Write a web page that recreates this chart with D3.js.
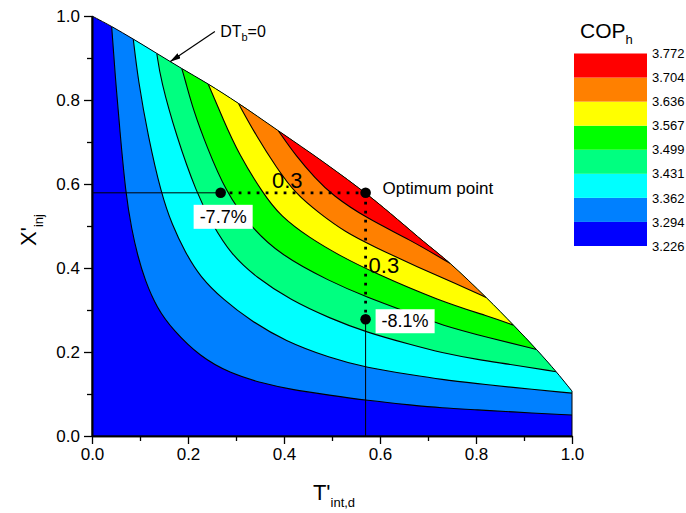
<!DOCTYPE html>
<html>
<head>
<meta charset="utf-8">
<script src="https://cdn.jsdelivr.net/npm/d3@7/dist/d3.min.js"></script>
<style>
  body { margin: 0; background: #fff; }
  text { font-family: "Liberation Sans", Arial, sans-serif; fill: #000; }
</style>
</head>
<body>
<div id="chart"></div>
<script>
// contour levels (COP_h) and band colours, low -> high
var levels = [3.226, 3.294, 3.362, 3.431, 3.499, 3.567, 3.636, 3.704, 3.772];
var bandColors = ["#0000ff", "#0080ff", "#00ffff", "#00ff80", "#00ff00", "#ffff00", "#ff8000", "#ff0000"];

// upper edge of the feasible region (DT_b = 0)
var boundary = [[0, 1.0], [0.041, 0.975], [0.086, 0.945], [0.135, 0.911], [0.187, 0.875],
  [0.242, 0.838], [0.305, 0.792], [0.388, 0.727], [0.485, 0.650], [0.579, 0.570],
  [0.690, 0.464], [0.746, 0.411], [0.821, 0.330], [0.878, 0.264], [0.926, 0.206],
  [0.967, 0.153], [0.990, 0.121], [1.0, 0.107]];

// iso-lines between the bands
var line3294 = [[0.041, 0.975], [0.049, 0.848], [0.058, 0.729], [0.070, 0.578], [0.083, 0.490],
  [0.095, 0.430], [0.110, 0.372], [0.135, 0.305], [0.169, 0.252], [0.225, 0.189], [0.288, 0.149],
  [0.357, 0.125], [0.413, 0.111], [0.496, 0.097], [0.571, 0.085], [0.669, 0.073], [0.725, 0.067],
  [0.808, 0.062], [0.864, 0.058], [1.0, 0.050]];
var line3362 = [[0.086, 0.945], [0.096, 0.848], [0.117, 0.713], [0.144, 0.578], [0.167, 0.502],
  [0.194, 0.438], [0.225, 0.379], [0.274, 0.324], [0.329, 0.276], [0.402, 0.226], [0.496, 0.186],
  [0.571, 0.163], [0.669, 0.145], [0.725, 0.135], [0.808, 0.124], [0.864, 0.117], [1.0, 0.102]];
var line3431 = [[0.135, 0.911], [0.143, 0.848], [0.176, 0.713], [0.218, 0.578], [0.250, 0.505],
  [0.290, 0.432], [0.343, 0.377], [0.413, 0.324], [0.496, 0.280], [0.571, 0.247], [0.669, 0.216],
  [0.725, 0.199], [0.808, 0.181], [0.864, 0.172], [0.967, 0.153]];
var line3499 = [[0.187, 0.875], [0.194, 0.848], [0.211, 0.776], [0.239, 0.689], [0.279, 0.581],
  [0.329, 0.500], [0.392, 0.431], [0.496, 0.368], [0.571, 0.331], [0.669, 0.290], [0.725, 0.265],
  [0.829, 0.233], [0.926, 0.206]];
var line3567 = [[0.242, 0.838], [0.274, 0.752], [0.305, 0.673], [0.356, 0.578], [0.392, 0.524],
  [0.454, 0.471], [0.517, 0.429], [0.585, 0.390], [0.725, 0.321], [0.829, 0.284], [0.878, 0.264]];
var line3636 = [[0.305, 0.792], [0.343, 0.713], [0.385, 0.638], [0.423, 0.578], [0.475, 0.529],
  [0.527, 0.486], [0.585, 0.452], [0.683, 0.400], [0.756, 0.364], [0.821, 0.330]];
var line3704 = [[0.388, 0.727], [0.426, 0.665], [0.465, 0.614], [0.500, 0.574], [0.571, 0.519],
  [0.663, 0.467], [0.746, 0.411]];
var contourLines = [line3294, line3362, line3431, line3499, line3567, line3636, line3704];

// marked points
var optimum = [0.570, 0.579];
var pointT = [0.268, 0.579];   // -7.7%
var pointX = [0.570, 0.278];   // -8.1%

var majorTicks = [0, 0.2, 0.4, 0.6, 0.8, 1.0];
var minorTicks = [0.1, 0.3, 0.5, 0.7, 0.9];

var svgWidth = 686;
var svgHeight = 513;
var margin = { top: 16, right: 114, bottom: 77, left: 92 };
var width = svgWidth - margin.left - margin.right;
var height = svgHeight - margin.top - margin.bottom;

var svg = d3.select("#chart").append("svg")
  .attr("width", svgWidth)
  .attr("height", svgHeight);

var xScale = d3.scaleLinear().domain([0, 1]).range([margin.left, margin.left + width]);
var yScale = d3.scaleLinear().domain([0, 1]).range([margin.top + height, margin.top]);

// smooth curve for the iso-lines, through-the-points curve for the edge
var isoLine = d3.line()
  .x(function (d) { return xScale(d[0]); })
  .y(function (d) { return yScale(d[1]); })
  .curve(d3.curveBasis);
var edgeLine = d3.line()
  .x(function (d) { return xScale(d[0]); })
  .y(function (d) { return yScale(d[1]); })
  .curve(d3.curveCatmullRom.alpha(0.5));

var domainPath = edgeLine(boundary) +
  "L" + xScale(1) + "," + yScale(0) + "L" + xScale(0) + "," + yScale(0) + "Z";

var defs = svg.append("defs");
defs.append("clipPath").attr("id", "region")
  .append("path").attr("d", domainPath);
defs.append("marker")
  .attr("id", "arrow")
  .attr("markerUnits", "userSpaceOnUse")
  .attr("markerWidth", 12).attr("markerHeight", 8)
  .attr("refX", 11).attr("refY", 3)
  .attr("orient", "auto")
  .append("path").attr("d", "M0,0L11,3L0,6Z").attr("fill", "#000");

// bands
var plot = svg.append("g").attr("clip-path", "url(#region)");
plot.append("path").attr("d", domainPath).attr("fill", bandColors[0]);

contourLines.forEach(function (pts, i) {
  var first = pts[0], last = pts[pts.length - 1];
  var d = isoLine(pts) +
    "L" + xScale(1.5) + "," + yScale(last[1]) +
    "L" + xScale(1.5) + "," + yScale(1.5) +
    "L" + xScale(first[0]) + "," + yScale(1.5) + "Z";
  plot.append("path").attr("d", d).attr("fill", bandColors[i + 1]);
});

plot.selectAll(".iso")
  .data(contourLines)
  .enter().append("path")
  .attr("class", "iso")
  .attr("d", isoLine)
  .attr("fill", "none")
  .attr("stroke", "#000")
  .attr("stroke-width", 1.1);

svg.append("path")
  .attr("d", domainPath)
  .attr("fill", "none")
  .attr("stroke", "#000")
  .attr("stroke-width", 1);

// axes
var bottomAxis = d3.axisBottom(xScale).tickValues(majorTicks).tickFormat(d3.format(".1f"))
  .tickSize(8).tickSizeOuter(0).tickPadding(4);
var bottomMinor = d3.axisBottom(xScale).tickValues(minorTicks).tickFormat("")
  .tickSize(5).tickSizeOuter(0);
var leftAxis = d3.axisLeft(yScale).tickValues(majorTicks).tickFormat(d3.format(".1f"))
  .tickSize(8).tickSizeOuter(0).tickPadding(4);
var leftMinor = d3.axisLeft(yScale).tickValues(minorTicks).tickFormat("")
  .tickSize(5).tickSizeOuter(0);

[[bottomAxis, "translate(0," + yScale(0) + ")"], [bottomMinor, "translate(0," + yScale(0) + ")"],
 [leftAxis, "translate(" + xScale(0) + ",0)"], [leftMinor, "translate(" + xScale(0) + ",0)"]]
  .forEach(function (a) {
    var g = svg.append("g").attr("transform", a[1]).call(a[0]);
    g.select(".domain").attr("stroke-width", 1.6);
    g.selectAll(".tick line").attr("stroke-width", 1.3);
    g.selectAll("text").style("font-size", "17px").attr("font-family", null);
  });

// axis titles
var xTitle = svg.append("text")
  .attr("x", 334).attr("y", 500)
  .attr("text-anchor", "middle")
  .style("font-size", "22px");
xTitle.append("tspan").text("T'");
xTitle.append("tspan").attr("dy", 7).style("font-size", "13px").text("int,d");

var yTitle = svg.append("text")
  .attr("transform", "translate(36,230) rotate(-90)")
  .attr("text-anchor", "middle")
  .style("font-size", "22px");
yTitle.append("tspan").text("X'");
yTitle.append("tspan").attr("dy", 7).style("font-size", "13px").text("inj");

// guide lines to the marked points
var guides = svg.append("g").attr("stroke", "#000").attr("fill", "none");
guides.append("line")
  .attr("x1", xScale(0)).attr("x2", xScale(pointT[0]))
  .attr("y1", yScale(pointT[1])).attr("y2", yScale(pointT[1]))
  .attr("stroke-width", 1);
guides.append("line")
  .attr("x1", xScale(pointX[0])).attr("x2", xScale(pointX[0]))
  .attr("y1", yScale(pointX[1])).attr("y2", yScale(0))
  .attr("stroke-width", 1);
guides.append("line")
  .attr("x1", xScale(pointT[0])).attr("x2", xScale(optimum[0]))
  .attr("y1", yScale(optimum[1])).attr("y2", yScale(optimum[1]))
  .attr("stroke-width", 2.8).attr("stroke-dasharray", "2.8 6.2");
guides.append("line")
  .attr("x1", xScale(optimum[0])).attr("x2", xScale(optimum[0]))
  .attr("y1", yScale(optimum[1])).attr("y2", yScale(pointX[1]))
  .attr("stroke-width", 2.8).attr("stroke-dasharray", "2.8 6.2");

svg.selectAll(".pt")
  .data([optimum, pointT, pointX])
  .enter().append("circle")
  .attr("class", "pt")
  .attr("cx", function (d) { return xScale(d[0]); })
  .attr("cy", function (d) { return yScale(d[1]); })
  .attr("r", 5.3)
  .attr("fill", "#000");

// labels
function boxedLabel(txt, x, y) {
  var g = svg.append("g");
  var t = g.append("text").attr("x", x).attr("y", y).style("font-size", "18px").text(txt);
  var b = t.node().getBBox();
  g.insert("rect", "text")
    .attr("x", b.x - 6).attr("y", b.y - 2)
    .attr("width", b.width + 12).attr("height", b.height + 4)
    .attr("fill", "#fff");
}
boxedLabel("-7.7%", xScale(pointT[0]) - 21, yScale(pointT[1]) + 30);
boxedLabel("-8.1%", xScale(pointX[0]) + 16, yScale(pointX[1]) + 8);

svg.append("text")
  .attr("x", xScale(optimum[0]) + 17).attr("y", yScale(optimum[1]) + 1)
  .style("font-size", "17px")
  .text("Optimum point");

svg.append("text")
  .attr("x", xScale(0.375)).attr("y", yScale(optimum[1]) - 5)
  .style("font-size", "22px")
  .text("0.3");
svg.append("text")
  .attr("x", xScale(optimum[0]) + 3).attr("y", yScale(0.388))
  .style("font-size", "22px")
  .text("0.3");

// DT_b = 0 arrow
svg.append("line")
  .attr("x1", xScale(0.256)).attr("y1", yScale(0.963))
  .attr("x2", xScale(0.1625)).attr("y2", yScale(0.891))
  .attr("stroke", "#000").attr("stroke-width", 1.2)
  .attr("marker-end", "url(#arrow)");
var dt = svg.append("text")
  .attr("x", xScale(0.267)).attr("y", yScale(0.95))
  .style("font-size", "16px");
dt.append("tspan").text("DT");
dt.append("tspan").attr("dy", 4).style("font-size", "11px").text("b");
dt.append("tspan").attr("dy", -4).text("=0");

// legend
var legendX = 574, legendW = 73;
var legendScale = d3.scalePoint().domain(levels).range([246, 53.5]);
var legend = svg.append("g");
legend.selectAll("rect")
  .data(bandColors)
  .enter().append("rect")
  .attr("x", legendX)
  .attr("width", legendW)
  .attr("y", function (d, i) { return legendScale(levels[i + 1]); })
  .attr("height", function (d, i) { return legendScale(levels[i]) - legendScale(levels[i + 1]); })
  .attr("fill", function (d) { return d; });

var legendAxis = d3.axisRight(legendScale).tickSize(0).tickPadding(5).tickFormat(d3.format(".3f"));
var lg = svg.append("g").attr("transform", "translate(" + (legendX + legendW) + ",0)").call(legendAxis);
lg.select(".domain").remove();
lg.selectAll("text").style("font-size", "13px").attr("font-family", null);

var cop = svg.append("text").attr("x", 580).attr("y", 38).style("font-size", "21px");
cop.append("tspan").text("COP");
cop.append("tspan").attr("dy", 6).style("font-size", "13px").text("h");
</script>
</body>
</html>
